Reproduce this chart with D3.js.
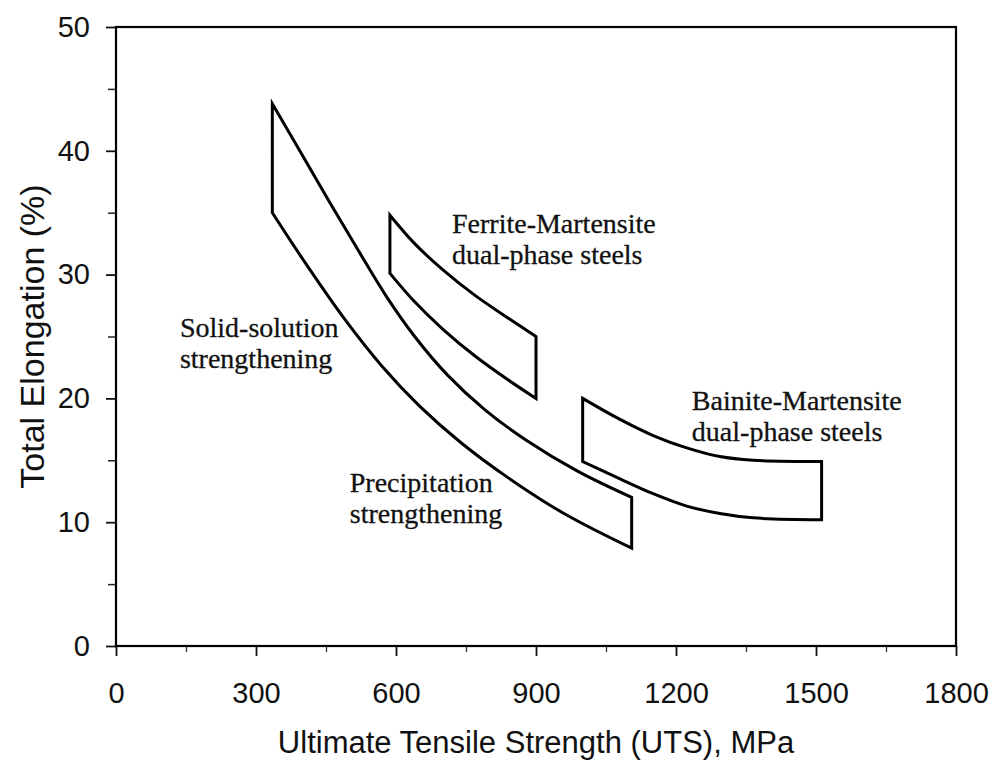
<!DOCTYPE html>
<html>
<head>
<meta charset="utf-8">
<script src="https://cdn.jsdelivr.net/npm/d3@7"></script>
<style>
  html, body { margin: 0; padding: 0; background: #fff; }
  svg { display: block; }
  .tick text { font-family: Arial, "Liberation Sans", sans-serif; fill: #111; }
</style>
</head>
<body>
<svg id="chart" width="994" height="762"></svg>
<script>
// Axis ticks
const xTicks = [0, 300, 600, 900, 1200, 1500, 1800];
const xMinorTicks = [150, 450, 750, 1050, 1350, 1650];
const yTicks = [0, 10, 20, 30, 40, 50];
const yMinorTicks = [5, 15, 25, 35, 45];

// Property bands: [UTS (MPa), total elongation (%)]
const solidSolutionUpper = [[335, 43.8], [400, 39.6], [460, 35.7], [520, 31.9], [580, 28.2], [640, 25.0], [710, 21.9], [790, 19.1], [880, 16.6], [990, 14.1], [1105, 12.0]];
const solidSolutionLower = [[335, 35.0], [410, 30.7], [490, 26.4], [570, 22.6], [650, 19.4], [740, 16.4], [840, 13.6], [960, 10.7], [1105, 7.9]];

const ferriteMartensiteUpper = [[587, 34.8], [640, 32.5], [700, 30.4], [770, 28.3], [840, 26.5], [900, 25.0]];
const ferriteMartensiteLower = [[587, 30.1], [640, 27.8], [700, 25.6], [770, 23.4], [840, 21.5], [900, 20.0]];

const bainiteMartensiteUpper = [[1000, 20.0], [1080, 18.3], [1151, 17.0], [1223, 16.0], [1294, 15.3], [1365, 15.0], [1512, 14.9]];
const bainiteMartensiteLower = [[1000, 14.9], [1080, 13.5], [1151, 12.3], [1223, 11.3], [1294, 10.7], [1365, 10.35], [1512, 10.2]];

// Region labels: lines of text anchored at [UTS, elongation] of the first baseline
const regionLabels = [
  { lines: ["Ferrite-Martensite", "dual-phase steels"], at: [720, 33.4] },
  { lines: ["Solid-solution", "strengthening"], at: [137, 25.0] },
  { lines: ["Bainite-Martensite", "dual-phase steels"], at: [1234, 19.1] },
  { lines: ["Precipitation", "strengthening"], at: [501, 12.4] }
];

const xTitle = "Ultimate Tensile Strength (UTS), MPa";
const yTitle = "Total Elongation (%)";

const svg = d3.select("#chart");
const margin = { left: 116, top: 27, right: 38, bottom: 116 };
const W = 994, H = 762;

const x = d3.scaleLinear().domain([0, 1800]).range([margin.left, W - margin.right]);
const y = d3.scaleLinear().domain([0, 50]).range([H - margin.bottom, margin.top]);

// Minor ticks
svg.append("g")
  .attr("transform", `translate(0,${y(0)})`)
  .call(d3.axisBottom(x).tickValues(xMinorTicks).tickSize(6).tickFormat(""))
  .call(g => g.select(".domain").remove())
  .selectAll("line").attr("stroke", "#333").attr("stroke-width", 1.3);
svg.append("g")
  .attr("transform", `translate(${x(0)},0)`)
  .call(d3.axisLeft(y).tickValues(yMinorTicks).tickSize(8).tickFormat(""))
  .call(g => g.select(".domain").remove())
  .selectAll("line").attr("stroke", "#222").attr("stroke-width", 1.5);

// Major ticks and labels
const xAxis = svg.append("g")
  .attr("transform", `translate(0,${y(0)})`)
  .call(d3.axisBottom(x).tickValues(xTicks).tickSize(10).tickPadding(26).tickFormat(d3.format("d")));
xAxis.select(".domain").remove();
xAxis.selectAll("line").attr("stroke", "#111").attr("stroke-width", 1.8);
xAxis.selectAll("text").attr("font-size", 29);

const yAxis = svg.append("g")
  .attr("transform", `translate(${x(0)},0)`)
  .call(d3.axisLeft(y).tickValues(yTicks).tickSize(10).tickPadding(16).tickFormat(d3.format("d")));
yAxis.select(".domain").remove();
yAxis.selectAll("line").attr("stroke", "#111").attr("stroke-width", 1.8);
yAxis.selectAll("text").attr("font-size", 29);

// Plot frame
svg.append("rect")
  .attr("x", x(0)).attr("y", y(50))
  .attr("width", x(1800) - x(0)).attr("height", y(0) - y(50))
  .attr("fill", "none").attr("stroke", "#000").attr("stroke-width", 2.2);

// Bands: upper edge left to right, right side down, lower edge back, closed
const line = d3.line().x(d => x(d[0])).y(d => y(d[1])).curve(d3.curveCatmullRom.alpha(0.5));
function bandPath(upper, lower) {
  const top = line(upper);
  const bottom = line(lower.slice().reverse()).replace(/^M/, "L");
  return top + bottom + "Z";
}
const bands = [
  [solidSolutionUpper, solidSolutionLower],
  [ferriteMartensiteUpper, ferriteMartensiteLower],
  [bainiteMartensiteUpper, bainiteMartensiteLower]
];
svg.append("g").selectAll("path")
  .data(bands)
  .join("path")
  .attr("d", d => bandPath(d[0], d[1]))
  .attr("fill", "none")
  .attr("stroke", "#000")
  .attr("stroke-width", 3)
  .attr("stroke-linejoin", "miter");

// Region labels
const labelGroup = svg.append("g")
  .attr("font-family", "'Times New Roman', 'Liberation Serif', serif")
  .attr("font-size", 28)
  .attr("fill", "#111")
  .attr("stroke", "#111")
  .attr("stroke-width", 0.3);
regionLabels.forEach(lab => {
  const t = labelGroup.append("text")
    .attr("x", x(lab.at[0]))
    .attr("y", y(lab.at[1]));
  lab.lines.forEach((s, i) => {
    t.append("tspan")
      .attr("x", x(lab.at[0]))
      .attr("dy", i === 0 ? 0 : 31)
      .text(s);
  });
});

// Axis titles
svg.append("text")
  .attr("x", (x(0) + x(1800)) / 2)
  .attr("y", 753)
  .attr("text-anchor", "middle")
  .attr("font-family", "Arial, 'Liberation Sans', sans-serif")
  .attr("font-size", 31)
  .attr("fill", "#111")
  .text(xTitle);

svg.append("text")
  .attr("transform", `translate(44,${(y(0) + y(50)) / 2}) rotate(-90)`)
  .attr("text-anchor", "middle")
  .attr("font-family", "Arial, 'Liberation Sans', sans-serif")
  .attr("font-size", 34)
  .attr("fill", "#111")
  .text(yTitle);
</script>
</body>
</html>
